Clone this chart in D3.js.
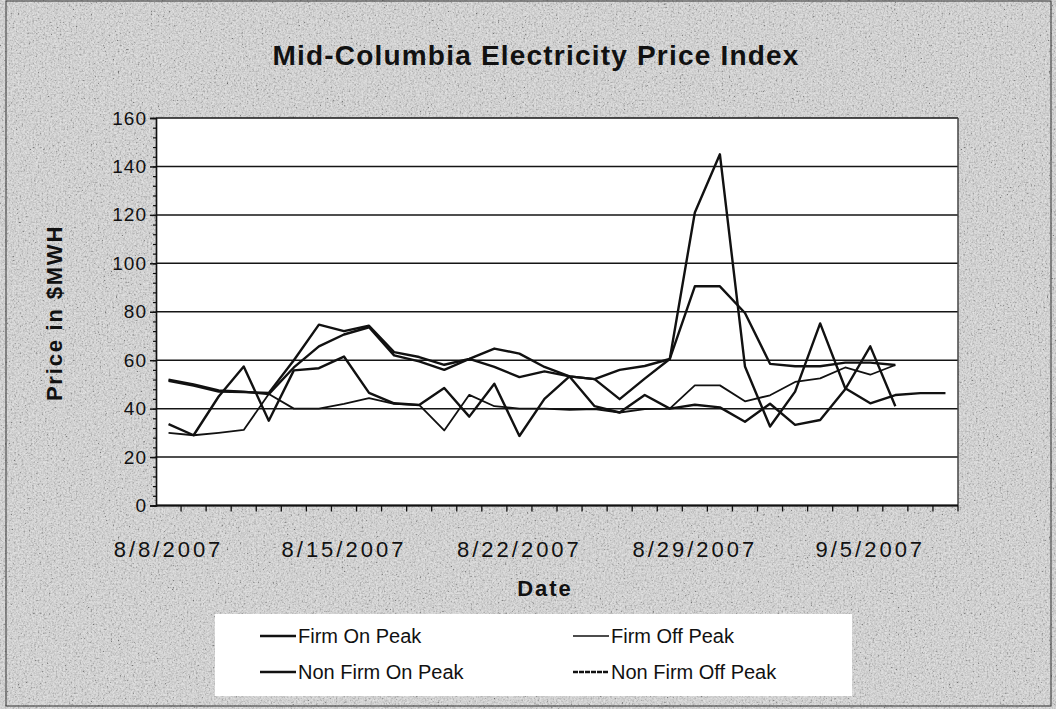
<!DOCTYPE html>
<html>
<head>
<meta charset="utf-8">
<script src="https://cdn.jsdelivr.net/npm/d3@7"></script>
<style>
body { margin: 0; background: #fff; }
svg { display: block; }
text { font-family: "Liberation Sans", Arial, sans-serif; fill: #111; }
</style>
</head>
<body>
<svg width="1056" height="709"></svg>
<script>
// data
var dates = ["8/8/2007", "8/9/2007", "8/10/2007", "8/11/2007", "8/12/2007", "8/13/2007", "8/14/2007", "8/15/2007",
  "8/16/2007", "8/17/2007", "8/18/2007", "8/19/2007", "8/20/2007", "8/21/2007", "8/22/2007", "8/23/2007",
  "8/24/2007", "8/25/2007", "8/26/2007", "8/27/2007", "8/28/2007", "8/29/2007", "8/30/2007", "8/31/2007",
  "9/1/2007", "9/2/2007", "9/3/2007", "9/4/2007", "9/5/2007", "9/6/2007", "9/7/2007", "9/8/2007"];

var firmOnPeak = [52, 50, 47.5, 47, 46, 57, 65.7, 70.6, 73.6, 62, 59.5, 56, 60.5, 57.2, 53, 55.4,
  53.3, 52.2, 56, 57.6, 60.5, 90.5, 90.5, 79.5, 58.5, 57.5, 57.5, 59, 59, 58, null, null];
var firmOffPeak = [30, 29, 30, 31.2, 46, 40, 40, 42, 44.3, 42, 41.5, 31, 45.7, 41, 40, 40,
  39.5, 39.8, 38.4, 39.8, 40, 49.6, 49.6, 43, 45.5, 51, 52.5, 57, 54, 58, null, null];
var nonFirmOnPeak = [51.5, 49.5, 47, 46.8, 46.5, 60, 74.7, 72, 74.2, 63.3, 61.3, 58.1, 60.5, 64.8, 62.7, 57.2,
  53.3, 52.2, 43.9, 52.4, 60.5, 121, 145, 57.4, 32.6, 47, 75.2, 48.4, 42.2, 45.6, 46.4, 46.4];
var nonFirmOffPeak = [33.6, 29, 45, 57.4, 35, 55.8, 56.7, 61.5, 46.5, 42.2, 41.5, 48.5, 36.7, 50.3, 28.7, 44,
  53.3, 41, 38.4, 45.6, 40, 41.6, 40.5, 34.6, 42, 33.3, 35.3, 48, 65.7, 41, null, null];

var yTicks = [0, 20, 40, 60, 80, 100, 120, 140, 160];
var xLabels = ["8/8/2007", "8/15/2007", "8/22/2007", "8/29/2007", "9/5/2007"];

var seriesNames = ["Firm On Peak", "Firm Off Peak", "Non Firm On Peak", "Non Firm Off Peak"];
var seriesData = [firmOnPeak, firmOffPeak, nonFirmOnPeak, nonFirmOffPeak];
var seriesWidth = [2.4, 1.8, 2.4, 2.4];

var svg = d3.select("svg"),
  margin = {top: 118, right: 98, bottom: 203.5, left: 156},
  width = +svg.attr("width") - margin.left - margin.right,
  height = +svg.attr("height") - margin.top - margin.bottom;

// scanned paper look
var defs = svg.append("defs");
var f = defs.append("filter").attr("id", "grain").attr("x", 0).attr("y", 0).attr("width", 1).attr("height", 1);
f.append("feTurbulence").attr("type", "fractalNoise").attr("baseFrequency", 0.55).attr("numOctaves", 3).attr("seed", 7);
f.append("feColorMatrix").attr("type", "saturate").attr("values", 0);
var ct = f.append("feComponentTransfer");
["feFuncR", "feFuncG", "feFuncB"].forEach(function(n) {
  ct.append(n).attr("type", "linear").attr("slope", 3.2).attr("intercept", -0.85);
});

svg.append("rect").attr("width", 1056).attr("height", 709).attr("fill", "#cbcbcb");
svg.append("rect").attr("width", 1056).attr("height", 709).attr("filter", "url(#grain)").attr("opacity", 0.55);
svg.append("rect").attr("x", 6).attr("y", 1).attr("width", 1045).attr("height", 705)
  .attr("fill", "none").style("stroke", "#333").style("stroke-width", 1);

svg.append("text")
  .attr("x", 536).attr("y", 65)
  .attr("text-anchor", "middle")
  .style("font-size", "28px").style("font-weight", "bold").style("letter-spacing", "1.2px")
  .text("Mid-Columbia Electricity Price Index");

var x = d3.scaleBand().domain(dates).range([0, width]),
  y = d3.scaleLinear().domain([0, 160]).range([height, 0]);

var g = svg.append("g")
  .attr("transform", "translate(" + margin.left + "," + margin.top + ")");

g.append("rect").attr("width", width).attr("height", height).attr("fill", "#fff");

// gridlines
g.selectAll(".grid")
  .data(yTicks)
  .enter().append("line")
  .attr("x1", 0).attr("x2", width)
  .attr("y1", function(d) { return y(d); })
  .attr("y2", function(d) { return y(d); })
  .style("stroke", "#151515").style("stroke-width", 1.5);

g.append("line").attr("x1", width).attr("x2", width).attr("y1", 0).attr("y2", height)
  .style("stroke", "#444").style("stroke-width", 1.5);

// y axis
var yAxis = g.append("g")
  .call(d3.axisLeft(y).tickValues(yTicks).tickSize(6).tickPadding(3));
yAxis.selectAll("text").style("font-size", "19px").style("letter-spacing", "1px").attr("fill", "#111");
yAxis.selectAll("line, path").style("stroke", "#111").style("stroke-width", 1.5);

g.append("g")
  .call(d3.axisLeft(y).tickValues(d3.range(0, 161, 4)).tickSize(3).tickFormat(""))
  .selectAll("line, path").style("stroke", "#111").style("stroke-width", 1.2);

// x axis
g.append("line").attr("x1", 0).attr("x2", width).attr("y1", height).attr("y2", height)
  .style("stroke", "#111").style("stroke-width", 1.8);

g.selectAll(".xtick")
  .data(dates)
  .enter().append("line")
  .attr("x1", function(d) { return x(d) + x.bandwidth(); })
  .attr("x2", function(d) { return x(d) + x.bandwidth(); })
  .attr("y1", height).attr("y2", height + 6)
  .style("stroke", "#111").style("stroke-width", 1.3);

var xAxis = g.append("g")
  .attr("transform", "translate(0," + height + ")")
  .call(d3.axisBottom(x).tickValues(xLabels).tickSize(0).tickPadding(36));
xAxis.select(".domain").remove();
xAxis.selectAll("text").style("font-size", "22px").style("letter-spacing", "3px").attr("fill", "#111");

svg.append("text")
  .attr("x", 545).attr("y", 596)
  .attr("text-anchor", "middle")
  .style("font-size", "22px").style("font-weight", "bold").style("letter-spacing", "2px")
  .text("Date");

svg.append("text")
  .attr("transform", "translate(62,313) rotate(-90)")
  .attr("text-anchor", "middle")
  .style("font-size", "22px").style("font-weight", "bold").style("letter-spacing", "1.8px")
  .text("Price in $MWH");

// series
var line = d3.line()
  .defined(function(d) { return d != null; })
  .x(function(d, i) { return x(dates[i]) + x.bandwidth() / 2; })
  .y(function(d) { return y(d); });

seriesData.forEach(function(s, k) {
  g.append("path")
    .datum(s)
    .attr("fill", "none")
    .attr("d", line)
    .style("stroke", "#111")
    .style("stroke-width", seriesWidth[k])
    .style("stroke-linejoin", "round");
});

// legend
svg.append("rect").attr("x", 215).attr("y", 614).attr("width", 637).attr("height", 82).attr("fill", "#fff");

var legend = svg.selectAll(".legend")
  .data(seriesNames)
  .enter().append("g")
  .attr("class", "legend")
  .attr("transform", function(d, i) {
    return "translate(" + (i % 2 ? 573 : 260) + "," + (i < 2 ? 636 : 672) + ")";
  });

legend.append("line")
  .attr("x1", 0).attr("x2", 36).attr("y1", 0).attr("y2", 0)
  .style("stroke", "#111")
  .style("stroke-width", function(d, i) { return i == 1 ? 1.6 : 2.6; })
  .style("stroke-dasharray", function(d, i) { return i == 3 ? "5,1" : null; });

legend.append("text")
  .attr("x", 38).attr("y", 7)
  .style("font-size", "20px")
  .text(function(d) { return d; });
</script>
</body>
</html>
